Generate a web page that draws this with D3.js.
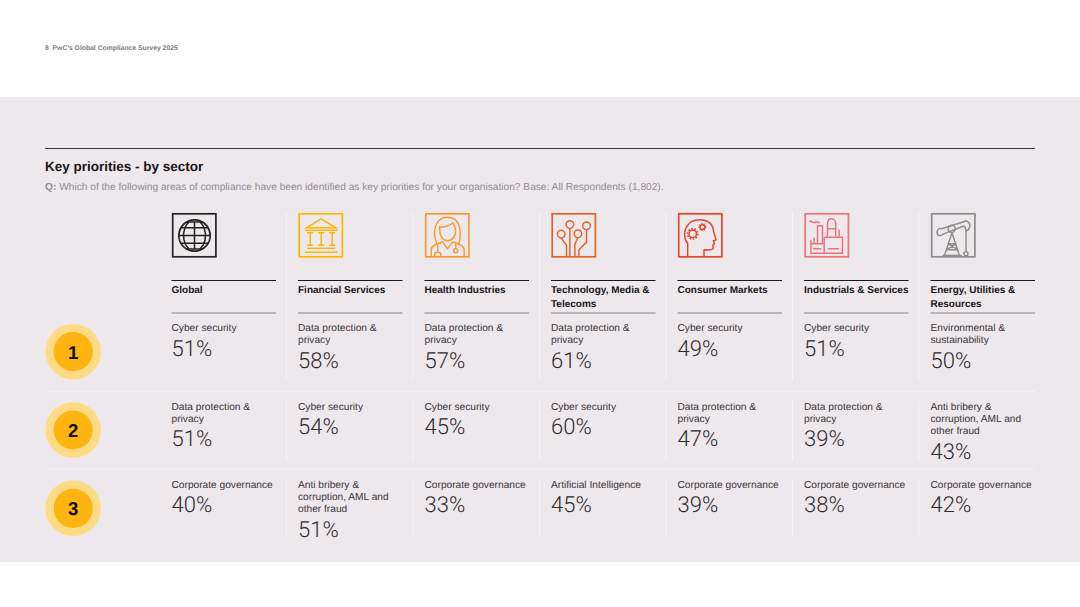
<!DOCTYPE html>
<html>
<head>
<meta charset="utf-8">
<script src="https://cdn.jsdelivr.net/npm/d3@7"></script>
<style>
  body { margin: 0; background: #fff; }
  text { font-family: "Liberation Sans", Arial, sans-serif; white-space: pre; text-rendering: geometricPrecision; }
  text.pct { font-family: Roboto, "Liberation Sans", sans-serif; font-weight: 300; }
</style>
</head>
<body>
<div id="chart"></div>
<script>
var sectors = ['Global', 'Financial Services', 'Health Industries', 'Technology, Media & Telecoms',
    'Consumer Markets', 'Industrials & Services', 'Energy, Utilities & Resources'];
var sectorLines = [['Global'], ['Financial Services'], ['Health Industries'], ['Technology, Media &', 'Telecoms'],
    ['Consumer Markets'], ['Industrials & Services'], ['Energy, Utilities &', 'Resources']];
var sectorColors = ['#232021', '#ffb600', '#f79a32', '#e0642a', '#e8432a', '#ee7078', '#8f8b8c'];
var ranks = [1, 2, 3];

var rank1Labels = ['Cyber security', 'Data protection &|privacy', 'Data protection &|privacy', 'Data protection &|privacy',
    'Cyber security', 'Cyber security', 'Environmental &|sustainability'];
var rank1Values = [51, 58, 57, 61, 49, 51, 50];
var rank2Labels = ['Data protection &|privacy', 'Cyber security', 'Cyber security', 'Cyber security',
    'Data protection &|privacy', 'Data protection &|privacy', 'Anti bribery &|corruption, AML and|other fraud'];
var rank2Values = [51, 54, 45, 60, 47, 39, 43];
var rank3Labels = ['Corporate governance', 'Anti bribery &|corruption, AML and|other fraud', 'Corporate governance',
    'Artificial Intelligence', 'Corporate governance', 'Corporate governance', 'Corporate governance'];
var rank3Values = [40, 51, 33, 45, 39, 38, 42];

var rowLabels = [rank1Labels, rank2Labels, rank3Labels];
var rowValues = [rank1Values, rank2Values, rank3Values];
var rowBaselines = [331, 409.5, 487.5];
var sepTops = [212, 401, 480];
var sepBottoms = [380, 461, 537];
var rowRules = [391.3, 469];
var circleY = [351.7, 430, 508.3];

// icon outlines, 44 x 44 box units, one list per sector
var iconPaths = [
    [],
    ['M22 5L7.3 14H36.7Z', 'M5.5 16.5H38.5', 'M8 19H14M19 19H25M30 19H36', 'M11 19V31M22 19V31M33 19V31',
     'M8 31.5H14M19 31.5H25M30 31.5H36', 'M8 34.5H36', 'M5.5 38.5H38.5'],
    ['M11 30C8 22 8 16 10.5 11C13 5 17 3.5 21.5 3.5C27 3.5 31 6 33 11C35 17 35 24 33 30',
     'M14 13C18 14 24 12 27 9C29 12 30 14 30 17C30 23 26 27 22 27C17 27 13.5 22 14 13Z',
     'M5.5 43V36C5.5 32 10 30.5 17 28L22 35L27 28C34 30.5 38.5 32 38.5 36V43',
     'M12 31V38M9 43V40C9 38 15 38 15 40V43', 'M30 30V35'],
    ['M9 24L14.3 31.7V43', 'M17.7 14.5V43', 'M25.7 24L22.7 30V43', 'M34.3 16V28.3L26.7 36V43'],
    ['M9 43.3V30C6 26 5.5 22 6 18C8 10 14 6 21.3 6C29 6 34 10 34.7 16C35 20 37 24 37.3 26L34.8 27L35.5 30L34.2 31.5L34.5 35C33 36.5 30 36.3 25.3 36V43.3'],
    ['M4 8C6 6 8 10 10 8.5S13 8 14.5 9', 'M12.3 30V12H17.3V30', 'M22.3 23V10C22.3 7 24 5 26.3 5S30.5 7 30.5 10V23',
     'M19 23.5H37.3V39.5H5.7V30H19', 'M19 23.5V39.5', 'M5.7 30V26M9 30V24', 'M34 23V16', 'M22.5 15H30',
     'M8 35H16M23 35H34'],
    ['M6 21C4 17 7 14 10 15L32 8C35 6 39 9 38 13C37.5 15 36 17 34.3 17C34 14 33 12 31.5 12.5L12 20C10 22 7.5 22.5 6 21Z',
     'M20.3 19L12.7 41.7M20.3 19L27.7 41.7', 'M16.5 30H24.5M14.5 36H26.5M16.5 30L26.5 36M24.5 30L14.5 36', 'M34.3 17V38', 'M11 41.7H30']
];
// circles inside icons: sector index, cx, cy, r (box units)
var iconCircleIndex = [3, 3, 3, 3, 4, 4, 2, 6, 6];
var iconCircleX = [17.7, 34.3, 9, 25.7, 14, 23.7, 30, 20, 34.3];
var iconCircleY = [10.7, 12, 20.3, 20, 20, 13.3, 37, 15, 40];
var iconCircleR = [3.8, 3.8, 3.8, 3.8, 3.8, 2.4, 2, 3.6, 2];

var svg = d3.select('#chart').append('svg')
    .attr('width', 1080)
    .attr('height', 607)
    .style('display', 'block');

svg.append('rect').attr('x', 0).attr('y', 97).attr('width', 1080).attr('height', 465).attr('fill', '#ede8ec');

svg.append('text').attr('x', 45).attr('y', 49.5)
    .attr('font-size', 6.8).attr('font-weight', 'bold').attr('fill', '#7d7b80')
    .text('8  PwC\u2019s Global Compliance Survey 2025');

svg.append('line').attr('x1', 45).attr('x2', 1035).attr('y1', 148.5).attr('y2', 148.5)
    .attr('stroke', '#3e3a3e').attr('stroke-width', 1);

svg.append('text').attr('x', 45).attr('y', 171.3)
    .attr('font-size', 13.5).attr('font-weight', 'bold').attr('fill', '#1a1718')
    .text('Key priorities - by sector');

var question = svg.append('text').attr('x', 45).attr('y', 190.3)
    .attr('font-size', 10.18).attr('fill', '#918d91');
question.append('tspan').attr('font-weight', 'bold').text('Q:');
question.append('tspan').text(' Which of the following areas of compliance have been identified as key priorities for your organisation? Base: All Respondents (1,802).');

var x = d3.scaleBand().domain(d3.range(sectors.length)).range([171.5, 1057]).paddingInner(0);
var colWidth = 104.5;

// vertical separators between columns
sectors.slice(1).forEach(function(s, i) {
    var lx = x(i + 1) - 11.5;
    sepTops.forEach(function(top, r) {
        svg.append('line').attr('x1', lx).attr('x2', lx).attr('y1', top).attr('y2', sepBottoms[r])
            .attr('stroke', '#f6f3f5').attr('stroke-width', 1);
    });
});

rowRules.forEach(function(y) {
    svg.append('line').attr('x1', 48).attr('x2', 1035).attr('y1', y).attr('y2', y)
        .attr('stroke', '#f6f3f5').attr('stroke-width', 1);
});

var columns = svg.selectAll('g.column')
    .data(sectors)
    .enter()
    .append('g')
    .attr('class', 'column')
    .attr('transform', function(d, i) { return 'translate(' + x(i) + ',0)'; });

var icons = columns.append('g')
    .attr('class', 'icon')
    .attr('transform', 'translate(1.2,213.8)')
    .attr('fill', 'none')
    .attr('stroke', function(d, i) { return sectorColors[i]; });

icons.append('rect')
    .attr('width', 43.2).attr('height', 43)
    .attr('stroke-width', 1.7);

icons.selectAll('path')
    .data(function(d, i) { return iconPaths[i]; })
    .enter()
    .append('path')
    .attr('d', function(d) { return d; })
    .attr('stroke-width', 1.45);

icons.each(function(d, i) {
    var g = d3.select(this);
    iconCircleIndex.forEach(function(idx, c) {
        if (idx !== i) return;
        g.append('circle')
            .attr('cx', iconCircleX[c]).attr('cy', iconCircleY[c]).attr('r', iconCircleR[c])
            .attr('stroke-width', 1.45);
    });
});

// gears on the head: dashed ring round the small circles
icons.filter(function(d, i) { return i === 4; }).each(function() {
    var g = d3.select(this);
    g.append('circle').attr('cx', 14).attr('cy', 20).attr('r', 5.2)
        .attr('stroke-width', 1.6).attr('stroke-dasharray', '1.6 1.6');
    g.append('circle').attr('cx', 23.7).attr('cy', 13.3).attr('r', 3.4)
        .attr('stroke-width', 1.2).attr('stroke-dasharray', '1.2 1.2');
});

// globe comes from a real projection and graticule
var projection = d3.geoOrthographic().scale(15.6).translate([21.8, 21.7]).rotate([0, 0]).clipAngle(90);
var globePath = d3.geoPath(projection);
var globe = icons.filter(function(d, i) { return i === 0; });
globe.append('path').attr('d', globePath({type: 'Sphere'})).attr('stroke-width', 1.8);
globe.append('path').attr('d', globePath(d3.geoGraticule().step([45, 30]).extent([[-90, -60], [90.01, 60.01]])()))
    .attr('stroke-width', 1.5);

columns.append('line').attr('x1', 0).attr('x2', colWidth).attr('y1', 280.5).attr('y2', 280.5)
    .attr('stroke', '#1a1718').attr('stroke-width', 1.2);
columns.append('line').attr('x1', 0).attr('x2', colWidth).attr('y1', 313).attr('y2', 313)
    .attr('stroke', '#aaa6aa').attr('stroke-width', 1.6);

columns.append('text')
    .attr('font-size', 10).attr('font-weight', 'bold').attr('fill', '#1a1718')
    .selectAll('tspan')
    .data(function(d, i) { return sectorLines[i]; })
    .enter()
    .append('tspan')
    .attr('x', 0)
    .attr('y', function(d, i) { return 293.3 + i * 13.4; })
    .text(function(d) { return d; });

// rank cells: label lines, then big percentage under them
ranks.forEach(function(rank, r) {
    columns.each(function(d, i) {
        var lines = rowLabels[r][i].split('|');
        var g = d3.select(this);
        lines.forEach(function(line, j) {
            g.append('text').attr('x', 0).attr('y', rowBaselines[r] + j * 12.1)
                .attr('font-size', 10.18).attr('fill', '#3a3639').text(line);
        });
        g.append('text').attr('class', 'pct').attr('x', 0)
            .attr('y', rowBaselines[r] + (lines.length - 1) * 12.1 + 24.8)
            .attr('font-size', 22).attr('fill', '#2f2b2e')
            .text(rowValues[r][i] + '%');
    });
});

var badges = svg.selectAll('g.badge')
    .data(ranks)
    .enter()
    .append('g')
    .attr('class', 'badge')
    .attr('transform', function(d, i) { return 'translate(73.2,' + circleY[i] + ')'; });

badges.append('circle').attr('r', 27.8).attr('fill', '#ffdb85');
badges.append('circle').attr('r', 19.6).attr('fill', '#ffb511');
badges.append('text').attr('text-anchor', 'middle').attr('y', 6.8)
    .attr('font-size', 18.5).attr('font-weight', 'bold').attr('fill', '#111')
    .text(function(d) { return d; });
</script>
</body>
</html>
